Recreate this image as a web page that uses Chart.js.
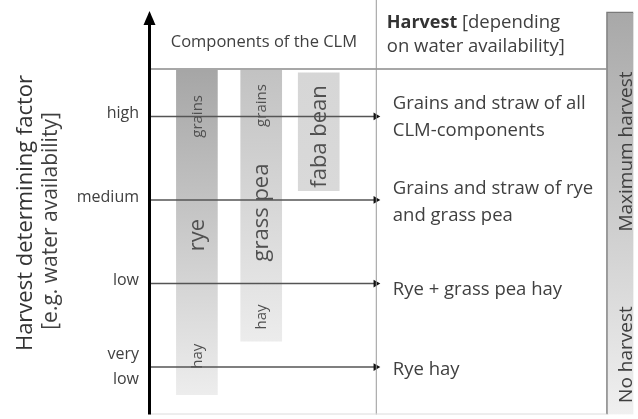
<!DOCTYPE html>
<html>
<head>
<meta charset="utf-8">
<script src="https://cdn.jsdelivr.net/npm/chart.js@4.4.1/dist/chart.umd.min.js"></script>
<style>
  body { margin: 0; background: #fff; }
  canvas { display: block; }
</style>
</head>
<body>
<canvas id="clmChart" width="638" height="419"></canvas>
<script>
// harvest determining factor levels (y value 1..4)
const levelLabels = [['very', 'low'], ['low'], ['medium'], ['high']];
const levelValues = [1, 2, 3, 4];

// CLM components: x position and vertical extent [bottom, top]
const components = ['rye', 'grass pea', 'faba bean'];
const componentX = [9.7, 23.0, 34.9];
const componentRange = [[0.67, 4.55], [1.31, 4.55], [3.11, 4.52]];

// labels written inside the component bars
const partText = ['grains', 'rye', 'hay', 'grains', 'grass pea', 'hay', 'faba bean'];
const partComponent = [0, 0, 0, 1, 1, 1, 2];
const partY = [4.0, 2.58, 1.13, 4.13, 2.85, 1.60, 3.76];
const partBig = [false, true, false, false, true, false, true];

// harvest outcome per level
const outcomeText = [
  ['Rye hay'],
  ['Rye + grass pea hay'],
  ['Grains and straw of rye', 'and grass pea'],
  ['Grains and straw of all', 'CLM-components']
];

// arrows run from the axis to the divider
const arrowStartX = 0;
const dividerX = 46.7;

// harvest scale bar on the right
const harvestBarX = 97.2;
const harvestBarRange = [0.433, 5.25];
const harvestBarLabels = ['Maximum harvest', 'No harvest'];
const harvestBarLabelY = [3.58, 1.15];

const FONT = '"Open Sans", sans-serif';
const TEXT = '#404040';

const topColors = ['#a6a6a6', '#c2c2c2', '#d6d6d6'];
const bottomColors = ['#ededed', '#ececec', '#d9d9d9'];

function vGradient(chart, top, bottom, c1, c2) {
  const y = chart.scales.y;
  const g = chart.ctx.createLinearGradient(0, y.getPixelForValue(top), 0, y.getPixelForValue(bottom));
  g.addColorStop(0, c1);
  g.addColorStop(1, c2);
  return g;
}

function rotatedText(ctx, text, x, y, font, color) {
  ctx.save();
  ctx.translate(x, y);
  ctx.rotate(-Math.PI / 2);
  ctx.font = font;
  ctx.fillStyle = color;
  ctx.textAlign = 'center';
  ctx.textBaseline = 'middle';
  ctx.fillText(text, 0, 0);
  ctx.restore();
}

const arrowDatasets = levelValues.map(lv => ({
  type: 'line',
  data: [{x: arrowStartX, y: lv}, {x: dividerX, y: lv}],
  borderColor: '#555',
  borderWidth: 1.5,
  pointRadius: [0, 4.5],
  pointStyle: 'triangle',
  pointRotation: 90,
  pointBackgroundColor: '#111',
  pointBorderColor: '#111',
  pointBorderWidth: 0,
  order: 1
}));

const drawText = {
  id: 'drawText',
  afterDatasetsDraw(chart) {
    const {ctx, chartArea} = chart;
    const xs = chart.scales.x, ys = chart.scales.y;
    const divPx = xs.getPixelForValue(dividerX);
    const barLeft = xs.getPixelForValue(harvestBarX) - 13.5;
    ctx.save();

    // header line, divider, bottom line
    ctx.strokeStyle = '#8a8a8a';
    ctx.lineWidth = 1.5;
    ctx.beginPath();
    ctx.moveTo(chartArea.left, chartArea.top);
    ctx.lineTo(barLeft, chartArea.top);
    ctx.stroke();
    ctx.strokeStyle = '#9a9a9a';
    ctx.lineWidth = 1;
    ctx.beginPath();
    ctx.moveTo(divPx + 0.5, 0);
    ctx.lineTo(divPx + 0.5, chartArea.bottom);
    ctx.stroke();
    ctx.strokeStyle = '#dcdcdc';
    ctx.beginPath();
    ctx.moveTo(chartArea.left, chartArea.bottom - 0.5);
    ctx.lineTo(barLeft, chartArea.bottom - 0.5);
    ctx.stroke();

    // thick y axis with arrow head
    const ax = chartArea.left - 0.5;
    ctx.strokeStyle = '#000';
    ctx.lineWidth = 3;
    ctx.beginPath();
    ctx.moveTo(ax, 22);
    ctx.lineTo(ax, chartArea.bottom);
    ctx.stroke();
    ctx.fillStyle = '#000';
    ctx.beginPath();
    ctx.moveTo(ax, 11);
    ctx.lineTo(ax - 6, 25);
    ctx.lineTo(ax + 6, 25);
    ctx.closePath();
    ctx.fill();

    // labels inside bars (rotated)
    partText.forEach((t, i) => {
      const px = xs.getPixelForValue(componentX[partComponent[i]]);
      const py = ys.getPixelForValue(partY[i]);
      rotatedText(ctx, t, px + 1, py, (partBig[i] ? '22px ' : '15px ') + FONT, '#505050');
    });

    // level tick labels
    ctx.fillStyle = TEXT;
    ctx.textAlign = 'right';
    ctx.textBaseline = 'middle';
    ctx.font = '16px ' + FONT;
    levelValues.forEach((lv, i) => {
      const py = ys.getPixelForValue(lv);
      const lines = levelLabels[i];
      if (lines.length === 1) {
        ctx.fillText(lines[0], 139, py - 3);
      } else {
        ctx.fillText(lines[0], 139, py - 13);
        ctx.fillText(lines[1], 139, py + 12);
      }
    });

    // outcome texts
    ctx.textAlign = 'left';
    ctx.font = '18.5px ' + FONT;
    outcomeText.forEach((lines, i) => {
      const py = ys.getPixelForValue(levelValues[i]);
      if (lines.length === 1) {
        ctx.fillText(lines[0], divPx + 17, py + (i === 0 ? 3 : 6));
      } else {
        const off = i === 3 ? -13 : -11;
        ctx.fillText(lines[0], divPx + 17, py + off);
        ctx.fillText(lines[1], divPx + 17, py + off + 27);
      }
    });

    // headers
    ctx.textAlign = 'center';
    ctx.font = '16.5px ' + FONT;
    ctx.fillText('Components of the CLM', (chartArea.left + divPx) / 2 + 1, 42);
    ctx.textAlign = 'left';
    ctx.font = 'bold 18px ' + FONT;
    ctx.fillStyle = '#333';
    ctx.fillText('Harvest', divPx + 11, 23);
    const w = ctx.measureText('Harvest ').width;
    ctx.font = '18.5px ' + FONT;
    ctx.fillStyle = TEXT;
    ctx.fillText('[depending', divPx + 11 + w, 23);
    ctx.fillText('on water availability]', divPx + 11, 47);

    // left axis title
    rotatedText(ctx, 'Harvest determining factor', 26, 213, '22px ' + FONT, '#333');
    rotatedText(ctx, '[e.g. water availability]', 51, 221, '21px ' + FONT, TEXT);

    // harvest bar labels
    harvestBarLabels.forEach((t, i) => {
      rotatedText(ctx, t, xs.getPixelForValue(harvestBarX) + 7, ys.getPixelForValue(harvestBarLabelY[i]), '19px ' + FONT, TEXT);
    });

    ctx.restore();
  }
};

new Chart(document.getElementById('clmChart'), {
  type: 'bar',
  data: {
    datasets: [
      {
        label: 'CLM components',
        data: components.map((c, i) => ({x: componentX[i], y: componentRange[i]})),
        backgroundColor: ctx => {
          if (!ctx.chart.chartArea) return '#ccc';
          const i = ctx.dataIndex;
          return vGradient(ctx.chart, componentRange[i][1], componentRange[i][0], topColors[i], bottomColors[i]);
        },
        barThickness: 41,
        grouped: false,
        borderWidth: 0,
        order: 2
      },
      {
        label: 'Harvest',
        data: [{x: harvestBarX, y: harvestBarRange}],
        backgroundColor: ctx => {
          if (!ctx.chart.chartArea) return '#ccc';
          return vGradient(ctx.chart, harvestBarRange[1], harvestBarRange[0], '#a8a8a8', '#f0f0f0');
        },
        borderColor: '#7a7a7a',
        borderWidth: {left: 1.5, top: 1.5, right: 0, bottom: 0},
        borderSkipped: false,
        barThickness: 27,
        grouped: false,
        clip: false,
        order: 3
      },
      ...arrowDatasets
    ]
  },
  options: {
    responsive: false,
    animation: false,
    layout: {padding: {left: 150, top: 69, right: 0, bottom: 0}},
    plugins: {legend: {display: false}, tooltip: {enabled: false}},
    scales: {
      x: {type: 'linear', min: 0, max: 100, offset: false, display: false},
      y: {type: 'linear', min: 0.433, max: 4.567, display: false}
    }
  },
  plugins: [drawText]
});
</script>
</body>
</html>
